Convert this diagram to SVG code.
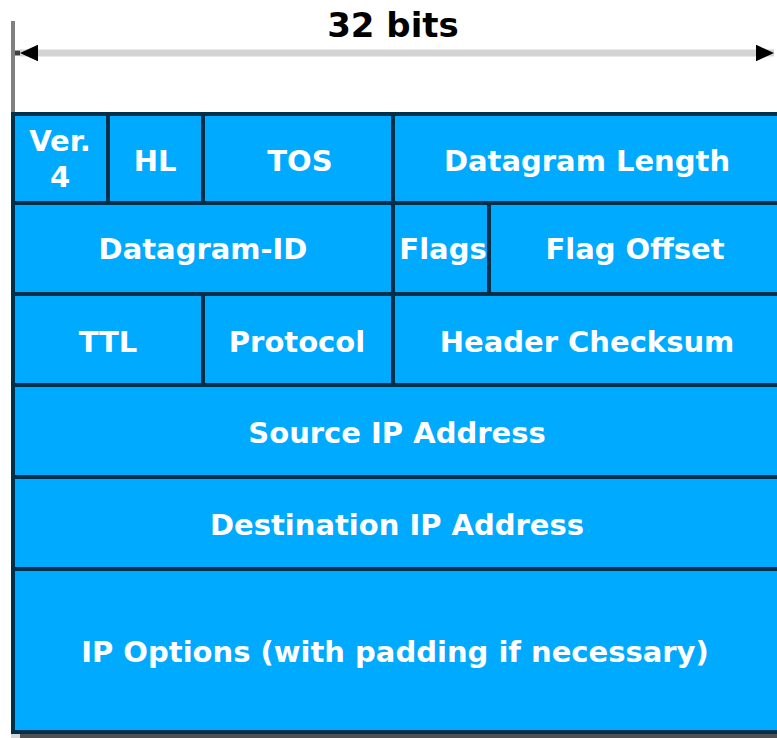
<svg xmlns="http://www.w3.org/2000/svg" width="777" height="738" viewBox="0 0 777 738">
<style>
.cell{fill:#00aaff;stroke:#00304c;stroke-width:4}
.lbl{font-family:"DejaVu Sans",Verdana,sans-serif;font-weight:bold;font-size:29px;fill:#ffffff;text-anchor:middle}
.title{font-family:"DejaVu Sans",Verdana,sans-serif;font-weight:bold;font-size:34px;fill:#000000;text-anchor:middle}
</style>
<defs>
<marker id="ah" viewBox="0 0 10 10" refX="10" refY="5" markerWidth="2.6" markerHeight="2.4" orient="auto-start-reverse" markerUnits="strokeWidth" preserveAspectRatio="none">
<path d="M0,0 L10,5 L0,10 Z" fill="#000000"/>
</marker>
</defs>
<rect x="0" y="0" width="777" height="738" fill="#ffffff"/>
<g id="dimension">
<line x1="13" y1="21" x2="13" y2="113" stroke="#808080" stroke-width="4"/>
<line x1="15" y1="53" x2="22" y2="53" stroke="#404040" stroke-width="5"/>
<line x1="20" y1="53" x2="774" y2="53" stroke="#d3d3d3" stroke-width="7" marker-start="url(#ah)" marker-end="url(#ah)"/>
<text class="title" x="393" y="37">32 bits</text>
</g>
<g id="shadow">
<rect x="11" y="734" width="9" height="4" fill="#d8d8d8"/>
<rect x="20" y="734" width="757" height="4" fill="#505050"/>
</g>
<g id="ver"><rect class="cell" x="13" y="114" width="95" height="89"/><text class="lbl" x="60" y="151">Ver.</text><text class="lbl" x="60" y="187">4</text></g>
<g id="hl"><rect class="cell" x="108" y="114" width="95" height="89"/><text class="lbl" x="155" y="171">HL</text></g>
<g id="tos"><rect class="cell" x="203" y="114" width="190" height="89"/><text class="lbl" x="300" y="171">TOS</text></g>
<g id="length"><rect class="cell" x="393" y="114" width="390" height="89"/><text class="lbl" x="587" y="171">Datagram Length</text></g>
<g id="id"><rect class="cell" x="13" y="203" width="380" height="91"/><text class="lbl" x="203" y="259">Datagram-ID</text></g>
<g id="flags"><rect class="cell" x="393" y="203" width="96" height="91"/><text class="lbl" x="443" y="259">Flags</text></g>
<g id="offset"><rect class="cell" x="489" y="203" width="294" height="91"/><text class="lbl" x="635" y="259">Flag Offset</text></g>
<g id="ttl"><rect class="cell" x="13" y="294" width="190" height="91"/><text class="lbl" x="108" y="352">TTL</text></g>
<g id="protocol"><rect class="cell" x="203" y="294" width="190" height="91"/><text class="lbl" x="297" y="352">Protocol</text></g>
<g id="checksum"><rect class="cell" x="393" y="294" width="390" height="91"/><text class="lbl" x="587" y="352">Header Checksum</text></g>
<g id="source"><rect class="cell" x="13" y="385" width="770" height="92"/><text class="lbl" x="397" y="443">Source IP Address</text></g>
<g id="dest"><rect class="cell" x="13" y="477" width="770" height="92"/><text class="lbl" x="397" y="535">Destination IP Address</text></g>
<g id="options"><rect class="cell" x="13" y="569" width="770" height="163"/><text class="lbl" x="395" y="662">IP Options (with padding if necessary)</text></g>
<g id="connectors"></g>
</svg>
